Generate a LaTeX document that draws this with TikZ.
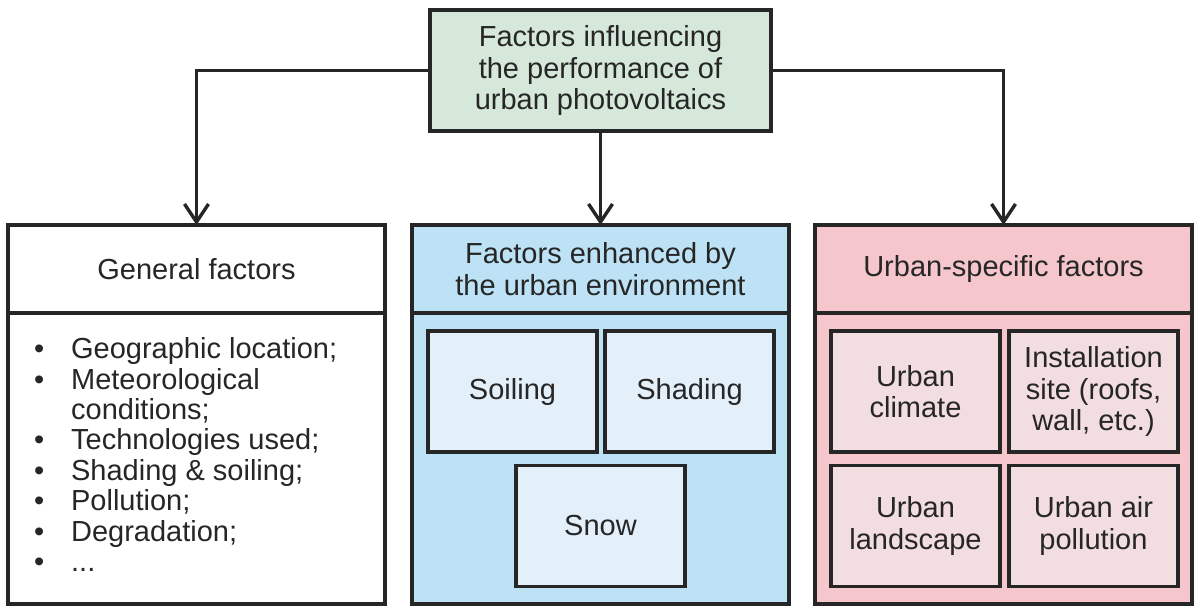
\documentclass[tikz,border=0pt]{standalone}
\usepackage{fontspec}
\setmainfont{Liberation Sans}
\usetikzlibrary{arrows.meta}
\definecolor{linegray}{HTML}{262626}
\definecolor{topgreen}{HTML}{D5E8DA}
\definecolor{enhblue}{HTML}{BDE2F6}
\definecolor{enhlight}{HTML}{E3F0F9}
\definecolor{urbpink}{HTML}{F5C6CB}
\definecolor{urblight}{HTML}{F2DDE0}

\begin{document}
\begin{tikzpicture}[x=0.5pt,y=-0.5pt,
    every node/.style={font=\fontsize{14.5}{15.8}\selectfont, align=center, inner sep=0pt, outer sep=0pt, text=linegray},
    box/.style={draw=linegray, line width=1.9pt, minimum width=188.5pt},
    headbox/.style={box, minimum height=44pt},
    bodybox/.style={box, minimum height=145.5pt},
    smallbox/.style={draw=linegray, line width=1.9pt, minimum width=84.5pt, minimum height=60.5pt},
    link/.style={draw=linegray, line width=1.7pt, -{Straight Barb[length=9pt,width=12pt]}}]
    \useasboundingbox (0,0) rectangle (1200,612);
    % top
    \node[draw=linegray, line width=1.9pt, fill=topgreen, minimum width=170.5pt, minimum height=60.5pt] (top) at (600.5,70.5) {Factors influencing\\the performance of\\urban photovoltaics};
    % three columns
    \node[headbox, fill=white] (gen) at (196.5,269) {General factors};
    \node[bodybox, fill=white] (genbody) at (196.5,458.5) {};
    \node[headbox, fill=enhblue] (enh) at (600.5,269) {Factors enhanced by\\the urban environment};
    \node[bodybox, fill=enhblue] (enhbody) at (600.5,458.5) {};
    \node[headbox, fill=urbpink] (urb) at (1003.5,269) {Urban-specific factors};
    \node[bodybox, fill=urbpink] (urbbody) at (1003.5,458.5) {};
    % list
    \node[anchor=west, font=\fontsize{14.5}{15.2}\selectfont] (genlist) at (34,459) {%
        \begin{tabular}{@{}l@{\hspace{13.5pt}}l@{}}
            \textbullet & Geographic location;\\
            \textbullet & Meteorological\\
                        & conditions;\\
            \textbullet & Technologies used;\\
            \textbullet & Shading \& soiling;\\
            \textbullet & Pollution;\\
            \textbullet & Degradation;\\
            \textbullet & ...
        \end{tabular}};
    % inner boxes
    \node[smallbox, fill=enhlight] (soil) at (512.5,391.5) {Soiling};
    \node[smallbox, fill=enhlight] (shade) at (689.5,391.5) {Shading};
    \node[smallbox, fill=enhlight] (snow) at (600.5,526) {Snow};
    \node[smallbox, fill=urblight] (clim) at (915.5,391.5) {Urban\\climate};
    \node[smallbox, fill=urblight] (site) at (1093.5,391.5) {Installation\\site (roofs,\\wall, etc.)};
    \node[smallbox, fill=urblight] (land) at (915.5,526) {Urban\\landscape};
    \node[smallbox, fill=urblight] (air) at (1093.5,526) {Urban air\\pollution};
    % arrows
    \draw[link] (top.west) -| (gen.north);
    \draw[link] (top.south) -- (enh.north);
    \draw[link] (top.east) -| (urb.north);
\end{tikzpicture}
\end{document}
